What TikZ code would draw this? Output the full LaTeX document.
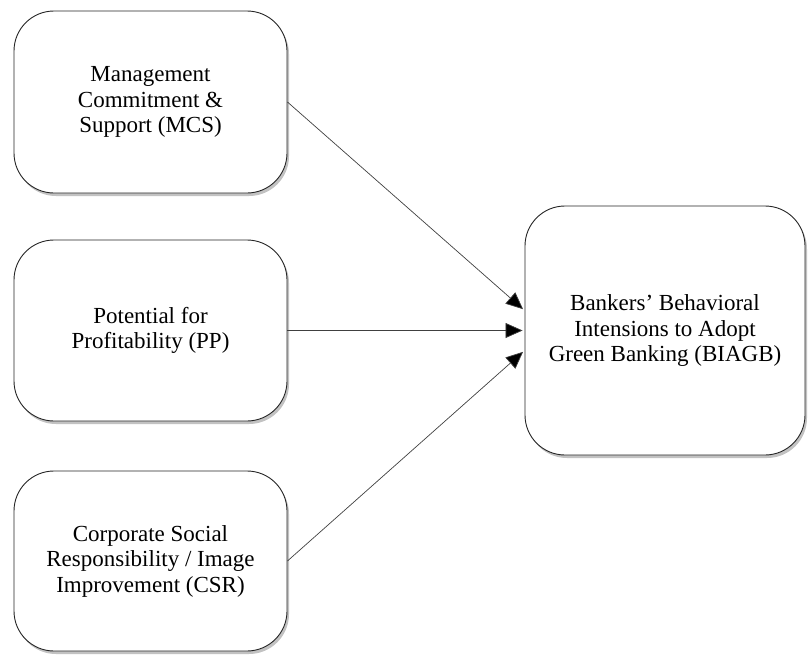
\documentclass[tikz,border=0pt]{standalone}
\usepackage{fontspec}
\setmainfont{Liberation Serif}
\usetikzlibrary{shadows,arrows.meta,calc}
\begin{document}
\begin{tikzpicture}[x=1pt,y=-1pt,
  box/.style={draw=black!85, line width=0.9pt, fill=white, rounded corners=40pt,
    align=center, inner sep=0pt,
    font=\fontsize{23}{25.5}\selectfont,
    drop shadow={shadow xshift=2pt, shadow yshift=-3pt, opacity=0.4, fill=black!60}},
  conn/.style={draw=black!75, line width=0.7pt,
    -{Triangle[length=17pt,width=15pt,fill=black]}, shorten >=2pt}]
\useasboundingbox (0,0) rectangle (808,656);
\node[box, minimum width=273pt, minimum height=182pt] (mcs) at (150.5,102)
  {Management\\Commitment \&\\Support (MCS)};
\node[box, minimum width=273pt, minimum height=181pt] (pp) at (150.5,330.5)
  {Potential for\\Profitability (PP)};
\node[box, minimum width=273pt, minimum height=180pt] (csr) at (150.5,561)
  {Corporate Social\\Responsibility / Image\\Improvement (CSR)};
\node[box, minimum width=280pt, minimum height=249pt] (biagb) at (665,330.5)
  {Bankers’ Behavioral\\Intensions to Adopt\\Green Banking (BIAGB)};
\coordinate (t1) at ($(biagb.west)+(0,-20)$);
\coordinate (t3) at ($(biagb.west)+(0,20)$);
\draw[conn] (mcs.east) -- (t1);
\draw[conn] (pp.east) -- (biagb.west);
\draw[conn] (csr.east) -- (t3);
\end{tikzpicture}
\end{document}
